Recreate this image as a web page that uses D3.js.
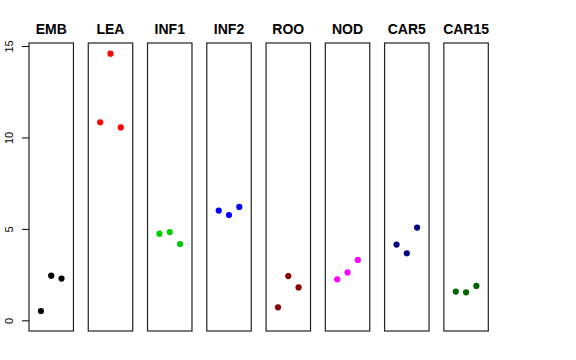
<!DOCTYPE html>
<html><head><meta charset="utf-8">
<script src="https://cdn.jsdelivr.net/npm/d3@7"></script>
<style>body{margin:0;background:#fff}svg{display:block}</style>
</head><body>
<script>
const categories = ["EMB","LEA","INF1","INF2","ROO","NOD","CAR5","CAR15"];
const colors = ["#000000","#FF0000","#00CD00","#0000FF","#8B0000","#FF00FF","#000080","#006400"];
const replicates = [1,2,3];
const values = [
  [0.51, 2.44, 2.28],
  [10.83, 14.58, 10.55],
  [4.74, 4.83, 4.17],
  [6.00, 5.76, 6.20],
  [0.71, 2.42, 1.80],
  [2.24, 2.62, 3.30],
  [4.14, 3.66, 5.07],
  [1.57, 1.53, 1.88]
];
const yTicks = [0,5,10,15];

(function(){
const W = 576, H = 360;
const svg = d3.select("body").append("svg").attr("width",W).attr("height",H);

const yTop = 43, yBottom = 331;
const y = d3.scaleLinear().domain([-0.584, 15.164]).range([yBottom, yTop]);

const panelX = d3.scaleBand().domain(categories).range([29, 488.3]).paddingInner(0.25).paddingOuter(0);
const pw = panelX.bandwidth();
const x = d3.scaleLinear().domain([-0.16, 4.16]).range([0, pw]);

categories.forEach((c, i) => {
  const g = svg.append("g").attr("transform", `translate(${panelX(c)},0)`);
  g.append("rect").attr("x",0).attr("y",yTop).attr("width",pw).attr("height",yBottom-yTop)
    .attr("fill","none").attr("stroke","#222").attr("stroke-width",1.2);
  g.append("text").attr("x",pw/2).attr("y",34).attr("text-anchor","middle")
    .attr("font-family","Liberation Sans, Arial, sans-serif").attr("font-weight","bold")
    .attr("font-size",14).text(c);
  g.selectAll("circle").data(values[i]).join("circle")
    .attr("cx",(d,j)=>x(replicates[j])).attr("cy",d=>y(d)).attr("r",3.1)
    .attr("fill",colors[i]);
});

const axis = d3.axisLeft(y).tickValues(yTicks).tickSize(7).tickPadding(6).tickSizeOuter(0);
const ag = svg.append("g").attr("transform",`translate(29,0)`).call(axis);
ag.select(".domain").remove();
ag.selectAll("line").attr("stroke","#000");
ag.selectAll("text").attr("font-family","Liberation Sans, Arial, sans-serif").attr("font-size",11)
  .attr("fill","#000").attr("text-anchor","middle")
  .attr("transform", "rotate(-90)").attr("x", 0).attr("y",-16).attr("dy",0);
})();
</script>
</body></html>
